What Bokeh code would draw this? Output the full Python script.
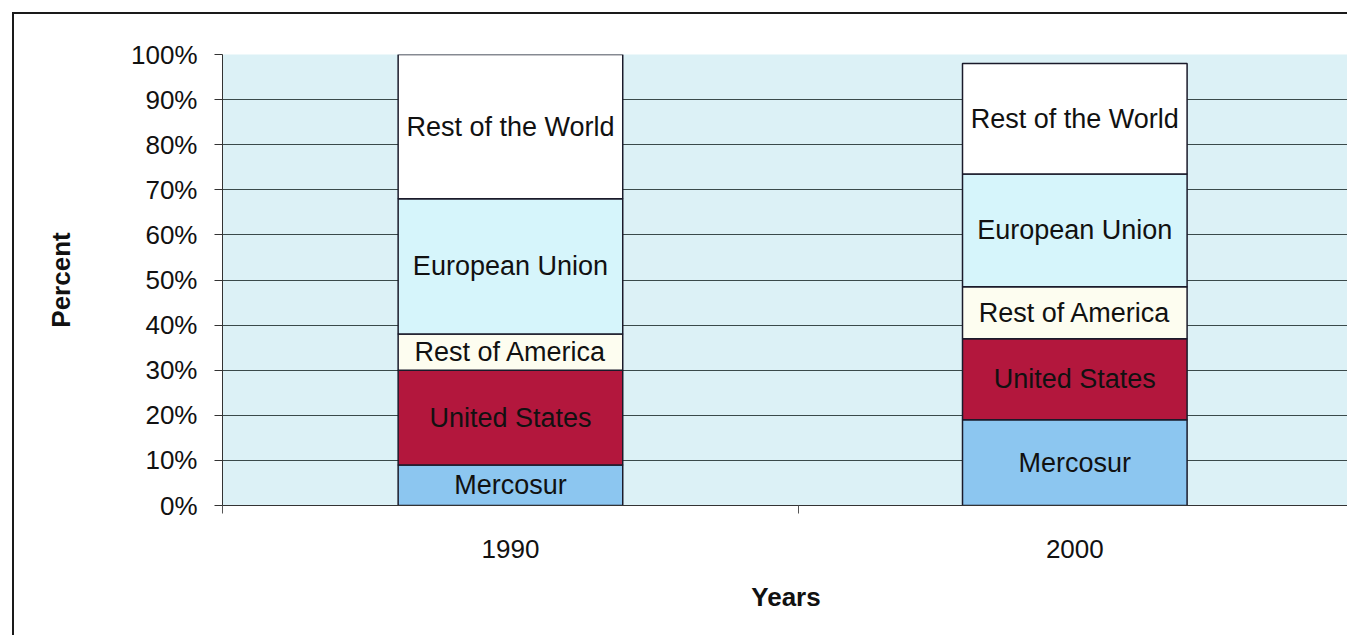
from bokeh.plotting import figure
from bokeh.models import ColumnDataSource, FixedTicker, Range1d
from bokeh.core.properties import value
from bokeh.embed import file_html
from bokeh.resources import INLINE

years = ["1990", "2000"]
regions = ["Mercosur", "United States", "Rest of America", "European Union", "Rest of the World"]
mercosur = [9.0, 19.0]
united_states = [21.0, 18.0]
rest_of_america = [8.0, 11.5]
european_union = [30.0, 25.0]
rest_of_world = [32.0, 24.5]
colors = ["#8cc6f0", "#b3173d", "#fdfdf0", "#d6f5fb", "#ffffff"]

series = [mercosur, united_states, rest_of_america, european_union, rest_of_world]
xpos = [0.5, 1.48]

FONT = "Liberation Sans"

p = figure(width=1335, height=623, output_backend="svg", toolbar_location=None,
           x_range=Range1d(0, 1.957), y_range=Range1d(0, 100),
           min_border_left=208, min_border_right=0, min_border_top=40, min_border_bottom=132)
p.styles = {"margin-left": "12px", "margin-top": "12px",
            "border-left": "2px solid #1a1a1a", "border-top": "2px solid #1a1a1a"}
p.background_fill_color = "#dcf1f6"
p.border_fill_color = "white"
p.outline_line_color = None

bottom = [0.0, 0.0]
for name, vals, col in zip(regions, series, colors):
    top = [b + v for b, v in zip(bottom, vals)]
    src = ColumnDataSource(dict(x=xpos, bottom=bottom, top=top,
                                mid=[(b + t) / 2 for b, t in zip(bottom, top)],
                                label=[name, name]))
    p.vbar(x="x", bottom="bottom", top="top", width=0.39, source=src,
           fill_color=col, line_color="#1a1a2a", line_width=1.5)
    p.text(x="x", y="mid", text="label", source=src, text_align="center",
           text_baseline="middle", text_font=value(FONT), text_font_size="27px",
           text_color="#111111")
    bottom = top

# axes
p.yaxis.ticker = FixedTicker(ticks=list(range(0, 101, 10)))
p.yaxis.major_label_overrides = {v: f"{v}%" for v in range(0, 101, 10)}
p.yaxis.major_label_text_font = FONT
p.yaxis.major_label_text_font_size = "26px"
p.yaxis.major_label_text_color = "#111111"
p.yaxis.major_tick_out = 8
p.yaxis.major_tick_in = 0
p.yaxis.minor_tick_line_color = None
p.yaxis.major_label_standoff = 17
p.yaxis.axis_line_color = "#333333"
p.yaxis.major_tick_line_color = "#333333"
p.yaxis.axis_label = "Percent"
p.yaxis.axis_label_text_font = FONT
p.yaxis.axis_label_text_font_style = "bold"
p.yaxis.axis_label_text_font_size = "26px"
p.yaxis.axis_label_text_color = "#111111"
p.yaxis.axis_label_standoff = 52

p.xaxis.ticker = FixedTicker(ticks=xpos, minor_ticks=[0, 1, 2])
p.xaxis.major_label_overrides = {x: y for x, y in zip(xpos, years)}
p.xaxis.major_label_text_font = FONT
p.xaxis.major_label_text_font_size = "26px"
p.xaxis.major_label_text_color = "#111111"
p.xaxis.major_tick_out = 0
p.xaxis.major_tick_in = 0
p.xaxis.minor_tick_out = 8
p.xaxis.minor_tick_in = 0
p.xaxis.minor_tick_line_color = "#555555"
p.xaxis.major_label_standoff = 26
p.xaxis.axis_line_color = "#333333"
p.xaxis.axis_label = "Years"
p.xaxis.axis_label_text_font = FONT
p.xaxis.axis_label_text_font_style = "bold"
p.xaxis.axis_label_text_font_size = "26px"
p.xaxis.axis_label_text_color = "#111111"
p.xaxis.axis_label_standoff = 21

p.xgrid.grid_line_color = None
p.ygrid.grid_line_color = "#3a4a4a"
p.ygrid.grid_line_width = 1

open("out.html", "w").write(file_html(p, INLINE))
